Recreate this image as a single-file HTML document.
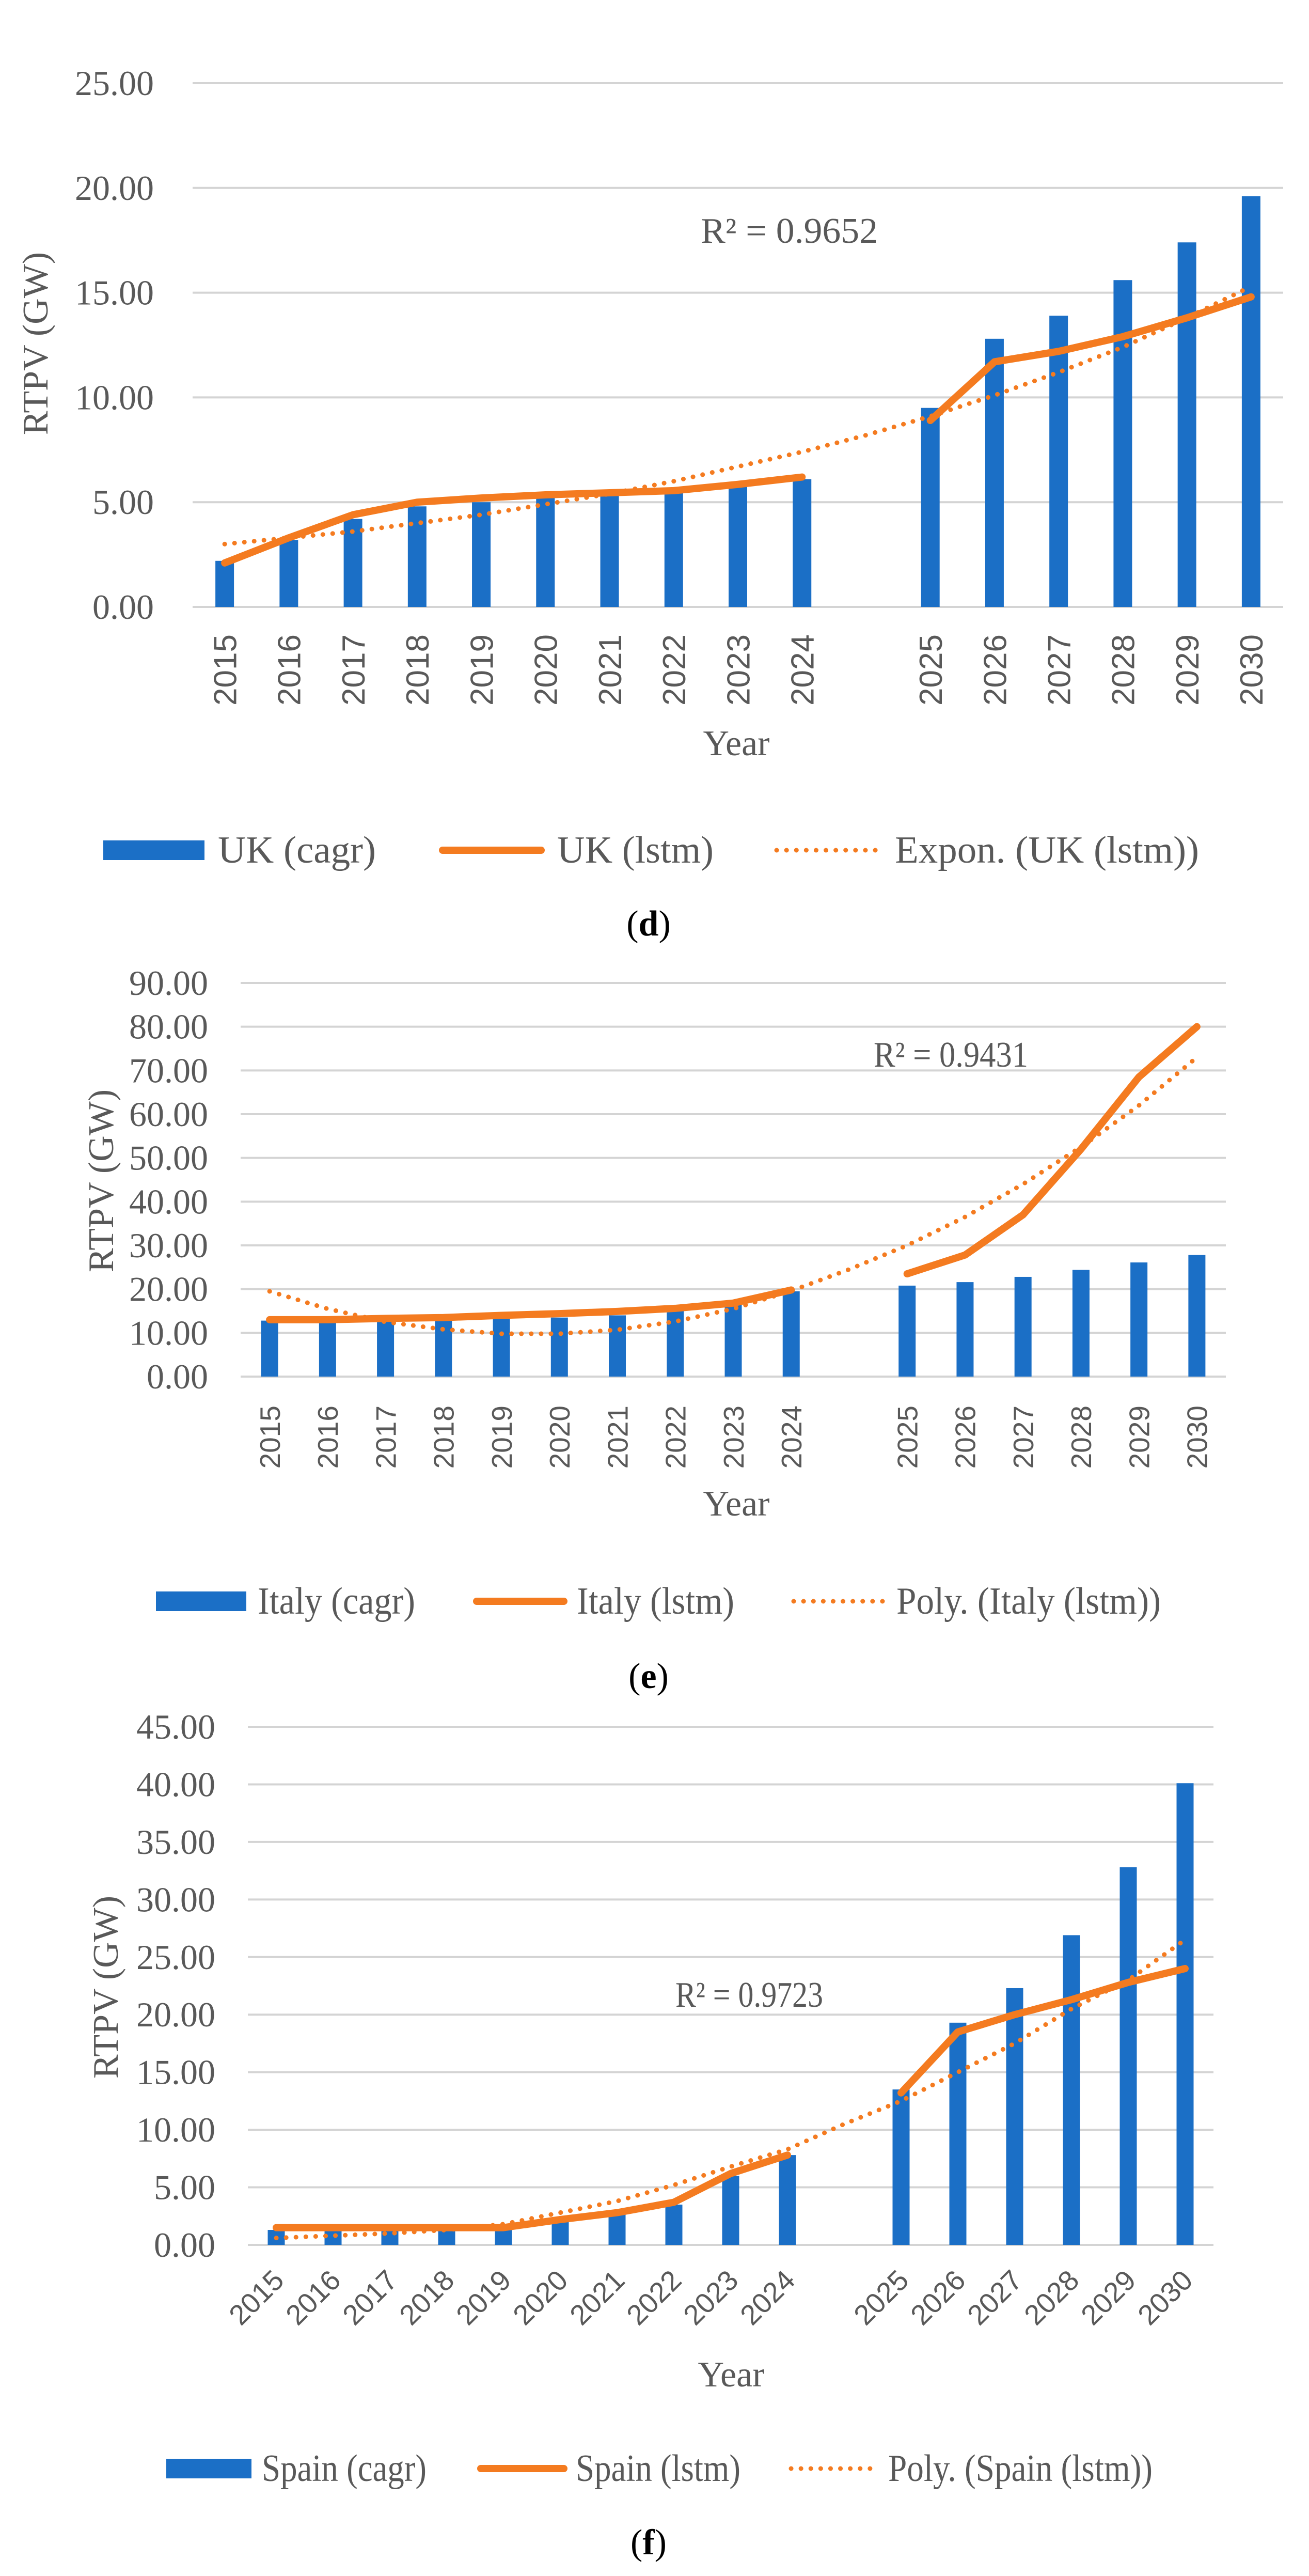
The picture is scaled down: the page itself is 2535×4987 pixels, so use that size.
<!DOCTYPE html>
<html><head><meta charset="utf-8">
<style>
html,body{margin:0;padding:0;background:#fff;}
svg{display:block;}
.tk{font-family:"Liberation Serif",serif;fill:#595959;}
.yr{font-family:"Liberation Sans",sans-serif;fill:#595959;}
</style></head>
<body>
<svg id="fig" width="2535" height="4987" viewBox="0 0 2535 4987" xmlns="http://www.w3.org/2000/svg"></svg>
<script>
const years = ["2015","2016","2017","2018","2019","2020","2021","2022","2023","2024","","2025","2026","2027","2028","2029","2030"];
// UK (d)
const ukCagr = [2.2,3.2,4.2,4.8,5.0,5.2,5.4,5.5,5.8,6.1,null,9.5,12.8,13.9,15.6,17.4,19.6];
const ukLstm = [2.1,3.3,4.4,5.0,5.2,5.35,5.45,5.55,5.85,6.2,null,8.9,11.7,12.2,12.9,13.8,14.8];
const ukTrend = [3.0,3.3,3.6,4.0,4.4,4.9,5.4,6.0,6.7,7.4,8.2,9.1,10.1,11.2,12.4,13.8,15.3];
const ukTicks = [0,5,10,15,20,25];
// Italy (e)
const itCagr = [12.8,12.5,13,13,13.2,13.5,14,15,16.5,19.5,null,20.8,21.6,22.8,24.4,26.1,27.8];
const itLstm = [13,13,13.3,13.5,14,14.4,14.9,15.6,16.8,19.8,null,23.5,27.8,37,52,68.5,80];
const itTrend = [19.5,15.5,12.5,10.8,9.8,9.8,10.7,12.6,15.5,19.6,24.5,30,36.5,44,52.5,62,73];
const itTicks = [0,10,20,30,40,50,60,70,80,90];
// Spain (f)
const esCagr = [1.3,1.2,1.2,1.3,1.4,2.2,2.7,3.5,6.0,7.8,null,13.5,19.3,22.3,26.9,32.8,40.1];
const esLstm = [1.5,1.5,1.5,1.5,1.5,2.2,2.8,3.7,6.2,7.8,null,13.2,18.5,20.0,21.3,22.8,24.0];
const esTrend = [0.6,0.8,1.0,1.3,1.8,2.8,3.8,5.2,6.8,8.3,10.5,12.5,15,17.5,20.5,23,26.5];
const esTicks = [0,5,10,15,20,25,30,35,40,45];

const NS="http://www.w3.org/2000/svg";
const svg=document.getElementById('fig');
const BLUE="#1b6fc6", ORANGE="#f47b20", GRID="#d4d4d4";
function mk(tag,attrs,parent){const e=document.createElementNS(NS,tag);for(const k in attrs)e.setAttribute(k,attrs[k]);(parent||svg).appendChild(e);return e;}

function chart(c){
  const g=mk('g',{});
  
  
  const max=c.ticks[c.ticks.length-1];
  const yS=v=>c.y0-(v/max)*(c.y0-c.yTop);
  const slot=(c.right-c.left)/years.length;
  const xS=i=>c.left+slot*(i+0.5);
  c.ticks.forEach(t=>{
    const l=mk('line',{x1:c.left,x2:c.right,y1:yS(t),y2:yS(t),stroke:GRID,'stroke-width':4},g);
    
    
    const tx=mk('text',{x:c.labR,y:yS(t)+23,'text-anchor':'end','font-size':68,class:'tk'},g);
    tx.textContent=t.toFixed(2);
    
    
  });
  c.cagr.forEach((v,i)=>{
    if(v==null)return;
    const r=mk('rect',{x:xS(i)-c.bw/2,y:yS(v),width:c.bw,height:c.y0-yS(v),fill:BLUE},g);
    
    
  });
  const tp=c.trend.map((v,i)=>xS(i)+','+yS(v)).join(' ');
  const tl=mk('polyline',{points:tp,fill:'none',stroke:ORANGE,'stroke-width':9,'stroke-dasharray':'0.1 19','stroke-linecap':'round'},g);
  
  
  [[0,10],[11,17]].forEach(([a,b])=>{
    const p=[];for(let i=a;i<b;i++)p.push(xS(i)+','+yS(c.lstm[i]));
    const pl=mk('polyline',{points:p.join(' '),fill:'none',stroke:ORANGE,'stroke-width':14,'stroke-linecap':'round','stroke-linejoin':'round'},g);
    
    
  });
  years.forEach((y,i)=>{
    if(!y)return;
    let t;
    if(c.diag){
      t=mk('text',{x:xS(i)+18,y:c.yrTop,'text-anchor':'end','font-size':c.yrSize,class:'yr',transform:`rotate(-45 ${xS(i)+18} ${c.yrTop})`},g);
    }else{
      t=mk('text',{x:xS(i)+c.yrSize*0.36,y:c.yrTop,'text-anchor':'end','font-size':c.yrSize,class:'yr',transform:`rotate(-90 ${xS(i)+c.yrSize*0.36} ${c.yrTop})`},g);
    }
    t.textContent=y;
    
    
  });
  const at=mk('text',{x:c.atX,y:c.atY,'text-anchor':'middle','font-size':70,class:'tk',transform:`rotate(-90 ${c.atX} ${c.atY})`,dy:23},g);
  at.textContent='RTPV (GW)';
  
  
  const xt=mk('text',{x:c.xtX,y:c.xtY+23,'text-anchor':'middle','font-size':70,class:'tk'},g);
  xt.textContent='Year';
  
  
  const r2=mk('text',{x:c.r2[0],y:c.r2[2]+23,'font-size':70,class:'tk',textLength:c.r2[1]-c.r2[0],lengthAdjust:'spacingAndGlyphs'},g);
  r2.textContent=c.r2t;
  
  
  const L=c.leg, ly=L.y;
  const lb=mk('rect',{x:L.b[0],y:ly-19,width:L.b[1]-L.b[0],height:38,fill:BLUE},g);
  
  
  const lo=mk('line',{x1:L.o[0]+7,x2:L.o[1]-7,y1:ly,y2:ly,stroke:ORANGE,'stroke-width':14,'stroke-linecap':'round'},g);
  
  
  const ld=mk('line',{x1:L.d[0],x2:L.d[1],y1:ly,y2:ly,stroke:ORANGE,'stroke-width':9,'stroke-dasharray':'0.1 19','stroke-linecap':'round'},g);
  
  
  L.t.forEach((tt,k)=>{
    const t=mk('text',{x:tt[0],y:ly+24,'font-size':74,class:'tk',textLength:tt[1]-tt[0],lengthAdjust:'spacingAndGlyphs'},g);
    t.textContent=tt[2];
    
    
  });
  const cap=mk('text',{x:c.cap[0],y:c.cap[1]+24,'text-anchor':'middle','font-size':70,class:'tk'},g);
  cap.style.fill='#000';
  cap.innerHTML='(<tspan font-weight="bold">'+c.cap[2]+'</tspan>)';
  
  
}

chart({id:'uk',cagr:ukCagr,lstm:ukLstm,trend:ukTrend,ticks:ukTicks,left:373,right:2485,y0:1175,yTop:161,bw:36,labR:298,
  yrTop:1228,yrSize:62,atX:69,atY:665,xtX:1426,xtY:1439,r2:[1357,1700,447],r2t:'R² = 0.9652',
  leg:{y:1646,b:[200,396],o:[850,1055],d:[1504,1700],t:[[422,728,'UK (cagr)'],[1079,1382,'UK (lstm)'],[1733,2322,'Expon. (UK (lstm))']]},
  cap:[1256,1787,'d']});
chart({id:'italy',cagr:itCagr,lstm:itLstm,trend:itTrend,ticks:itTicks,left:466,right:2374,y0:2665,yTop:1903,bw:33,labR:403,
  yrTop:2721,yrSize:55,atX:196,atY:2286,xtX:1426,xtY:2911,r2:[1692,1991,2042],r2t:'R² = 0.9431',
  leg:{y:3100,b:[302,477],o:[916,1099],d:[1537,1712],t:[[499,804,'Italy (cagr)'],[1117,1422,'Italy (lstm)'],[1736,2248,'Poly. (Italy (lstm))']]},
  cap:[1256,3244,'e']});
chart({id:'spain',cagr:esCagr,lstm:esLstm,trend:esTrend,ticks:esTicks,left:480,right:2350,y0:4346,yTop:3343,bw:33,labR:417,diag:true,
  yrTop:4418,yrSize:55,atX:205,atY:3847,xtX:1416,xtY:4597,r2:[1308,1594,3862],r2t:'R² = 0.9723',
  leg:{y:4779,b:[322,487],o:[924,1099],d:[1532,1700],t:[[507,826,'Spain (cagr)'],[1115,1434,'Spain (lstm)'],[1720,2232,'Poly. (Spain (lstm))']]},
  cap:[1256,4921,'f']});
</script>
</body></html>
